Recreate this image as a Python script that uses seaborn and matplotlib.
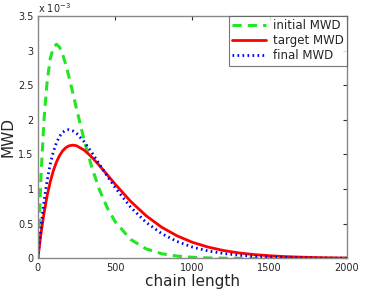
import numpy as np
import pandas as pd
import matplotlib
matplotlib.use("Agg")
import matplotlib.pyplot as plt
import seaborn as sns
from matplotlib.ticker import FuncFormatter

# chain length grid
chain_length = [0, 20, 40, 60, 80, 100, 120, 140, 160, 180, 200, 225, 250, 300, 350,
                400, 450, 500, 600, 700, 800, 900, 1000, 1100, 1200, 1300, 1400,
                1500, 1600, 1700, 1800, 1900, 2000]

# MWD values in units of 1e-3
initial_mwd = [0, 1.194, 2.018, 2.559, 2.884, 3.048, 3.091, 3.049, 2.946, 2.800, 2.630,
               2.398, 2.159, 1.702, 1.305, 0.980, 0.725, 0.529, 0.274, 0.138, 0.068,
               0.033, 0.016, 0.007, 0.003, 0.001, 0.0, 0.0, 0.0, 0.0, 0.0, 0.0, 0.0]
target_mwd = [0, 0.361, 0.661, 0.908, 1.107, 1.267, 1.391, 1.484, 1.552, 1.598, 1.624,
              1.635, 1.626, 1.562, 1.459, 1.335, 1.203, 1.071, 0.823, 0.616, 0.451,
              0.326, 0.232, 0.164, 0.114, 0.079, 0.055, 0.038, 0.026, 0.018, 0.012,
              0.008, 0.005]
final_mwd = [0, 0.461, 0.834, 1.130, 1.362, 1.539, 1.670, 1.761, 1.819, 1.850, 1.858,
             1.842, 1.804, 1.682, 1.524, 1.353, 1.182, 1.021, 0.739, 0.520, 0.359,
             0.244, 0.163, 0.108, 0.071, 0.047, 0.030, 0.020, 0.013, 0.008, 0.005,
             0.003, 0.002]

df = pd.DataFrame({"chain length": chain_length,
                   "initial MWD": initial_mwd,
                   "target MWD": target_mwd,
                   "final MWD": final_mwd})

sns.set_style("white")
plt.rcParams['font.family'] = ['DejaVu Sans']

fig = plt.figure(figsize=(3.68, 2.90), dpi=100)
ax = fig.add_axes([0.103, 0.109, 0.840, 0.836])

sns.lineplot(data=df, x="chain length", y="initial MWD", ax=ax, color="#22e622",
             linestyle=(0, (3, 2)), linewidth=2.2, label="initial MWD")
sns.lineplot(data=df, x="chain length", y="target MWD", ax=ax, color="#ff0000",
             linewidth=2.0, label="target MWD")
sns.lineplot(data=df, x="chain length", y="final MWD", ax=ax, color="#0000ee",
             linestyle=(0, (0.6, 1.2)), linewidth=2.0, label="final MWD")

ax.set_xlim(0, 2000)
ax.set_ylim(0, 3.5)
ax.set_xticks([0, 500, 1000, 1500, 2000])
ax.set_yticks([0, 0.5, 1, 1.5, 2, 2.5, 3, 3.5])
ax.yaxis.set_major_formatter(FuncFormatter(lambda v, p: f"{v:g}"))
ax.tick_params(direction="in", length=3, labelsize=7, color="#333333",
               top=True, right=True, pad=3)
for s in ax.spines.values():
    s.set_color("#888888")
    s.set_linewidth(1.0)

ax.set_xlabel("chain length", fontsize=11, labelpad=1)
ax.set_ylabel("MWD", fontsize=11)
ax.yaxis.set_label_coords(-0.072, 0.5)
ax.text(0.0, 1.005, r"x 10$^{-3}$", transform=ax.transAxes, fontsize=7,
        ha="left", va="bottom")

leg = ax.legend(loc="upper right", fontsize=8.5, frameon=True, fancybox=False,
                borderaxespad=0, handlelength=2.8, handletextpad=0.6,
                labelspacing=0.15, borderpad=0.3)
leg.get_frame().set_edgecolor("#555555")
leg.get_frame().set_linewidth(0.8)

fig.savefig("out.png", dpi=100)
